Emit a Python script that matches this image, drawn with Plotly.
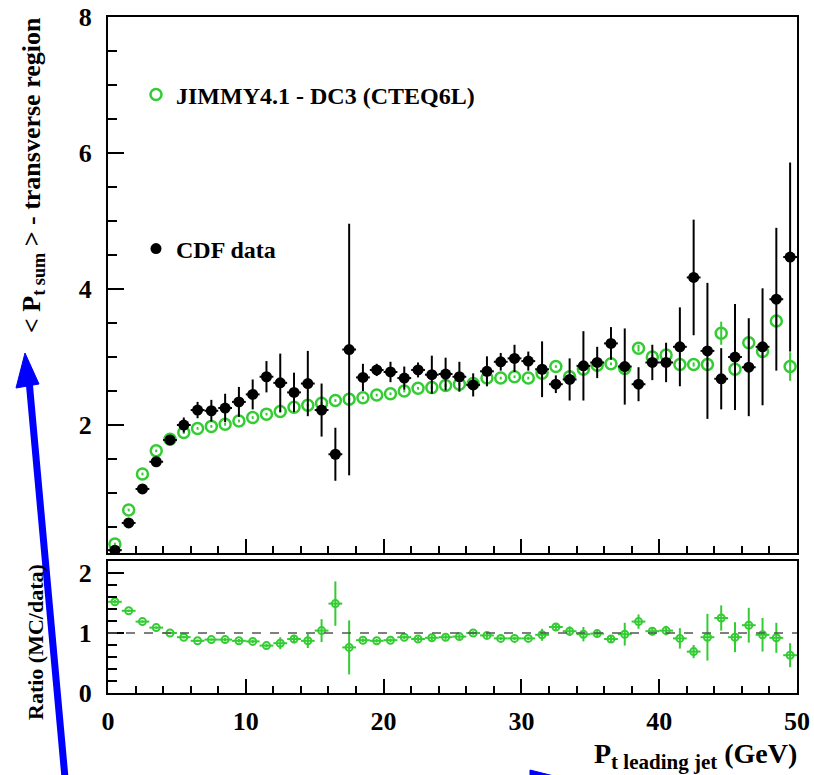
import plotly.graph_objects as go

# ---------------- data ----------------
pt_bins = [0.5, 1.5, 2.5, 3.5, 4.5, 5.5, 6.5, 7.5, 8.5, 9.5,
           10.5, 11.5, 12.5, 13.5, 14.5, 15.5, 16.5, 17.5, 18.5, 19.5,
           20.5, 21.5, 22.5, 23.5, 24.5, 25.5, 26.5, 27.5, 28.5, 29.5,
           30.5, 31.5, 32.5, 33.5, 34.5, 35.5, 36.5, 37.5, 38.5, 39.5,
           40.5, 41.5, 42.5, 43.5, 44.5, 45.5, 46.5, 47.5, 48.5, 49.5]

jimmy_mc = [0.25, 0.75, 1.28, 1.62, 1.79, 1.89, 1.95, 1.98, 2.01, 2.06,
            2.11, 2.16, 2.20, 2.26, 2.29, 2.32, 2.36, 2.38, 2.40, 2.44,
            2.46, 2.50, 2.54, 2.55, 2.58, 2.60, 2.61, 2.69, 2.69, 2.71,
            2.69, 2.76, 2.86, 2.71, 2.82, 2.88, 2.90, 2.83, 3.13, 3.00,
            3.03, 2.89, 2.89, 2.89, 3.35, 2.82, 3.21, 3.08, 3.53, 2.86]
jimmy_err = [0.02, 0.02, 0.02, 0.02, 0.02, 0.02, 0.02, 0.02, 0.02, 0.02,
             0.02, 0.02, 0.02, 0.02, 0.02, 0.02, 0.02, 0.02, 0.02, 0.02,
             0.02, 0.02, 0.02, 0.02, 0.02, 0.02, 0.02, 0.02, 0.02, 0.02,
             0.02, 0.02, 0.02, 0.02, 0.02, 0.02, 0.02, 0.02, 0.05, 0.03,
             0.03, 0.03, 0.03, 0.03, 0.17, 0.04, 0.06, 0.06, 0.08, 0.21]

cdf_data = [0.16, 0.56, 1.06, 1.46, 1.78, 2.00, 2.22, 2.21, 2.25, 2.34,
            2.45, 2.71, 2.62, 2.48, 2.61, 2.22, 1.57, 3.11, 2.70, 2.81,
            2.78, 2.69, 2.81, 2.74, 2.75, 2.71, 2.59, 2.79, 2.93, 2.98,
            2.94, 2.82, 2.60, 2.67, 2.87, 2.92, 3.20, 2.86, 2.60, 2.92,
            2.92, 3.15, 4.17, 3.09, 2.68, 3.00, 2.85, 3.15, 3.85, 4.47]
cdf_err = [0.03, 0.03, 0.03, 0.04, 0.04, 0.11, 0.12, 0.16, 0.21, 0.22,
           0.22, 0.23, 0.43, 0.29, 0.48, 0.39, 0.39, 1.85, 0.20, 0.09,
           0.15, 0.17, 0.11, 0.28, 0.24, 0.22, 0.17, 0.22, 0.13, 0.20,
           0.14, 0.41, 0.13, 0.31, 0.51, 0.23, 0.24, 0.56, 0.25, 0.26,
           0.29, 0.58, 0.85, 1.00, 0.45, 0.78, 0.72, 0.86, 1.05, 1.39]

ratio = [1.52, 1.37, 1.19, 1.09, 1.00, 0.93, 0.87, 0.89, 0.89, 0.87,
         0.86, 0.79, 0.83, 0.90, 0.87, 1.04, 1.49, 0.76, 0.88, 0.87,
         0.88, 0.93, 0.90, 0.92, 0.93, 0.94, 1.00, 0.96, 0.91, 0.91,
         0.91, 0.97, 1.10, 1.03, 0.98, 0.99, 0.90, 0.98, 1.19, 1.03,
         1.04, 0.91, 0.69, 0.93, 1.25, 0.93, 1.13, 0.97, 0.92, 0.63]
ratio_err = [0.03, 0.02, 0.02, 0.02, 0.02, 0.02, 0.02, 0.02, 0.03, 0.03,
             0.03, 0.03, 0.10, 0.07, 0.12, 0.19, 0.37, 0.45, 0.03, 0.03,
             0.03, 0.03, 0.04, 0.04, 0.04, 0.04, 0.03, 0.04, 0.03, 0.03,
             0.03, 0.10, 0.05, 0.08, 0.12, 0.05, 0.05, 0.19, 0.12, 0.07,
             0.08, 0.17, 0.11, 0.39, 0.21, 0.25, 0.29, 0.28, 0.25, 0.20]

mc_label = "JIMMY4.1 - DC3 (CTEQ6L)"
data_label = "CDF data"

GREEN = "#33cc33"
SERIF = "Liberation Serif"

# ---------------- geometry helpers (pixel -> paper) ----------------
W, H = 814, 775
ML, MR, MT, MB = 108, 17, 17, 82
PW, PH = W - ML - MR, H - MT - MB


def px(x):
    return (x - ML) / PW


def py(y):
    return (H - MB - y) / PH


fig = go.Figure()

# top panel: MC
fig.add_trace(go.Scatter(
    x=pt_bins, y=jimmy_mc, mode="markers", name=mc_label,
    marker=dict(symbol="circle-open", size=11, color=GREEN, line=dict(width=2.5, color=GREEN)),
    error_y=dict(type="data", array=jimmy_err, color=GREEN, thickness=2, width=0),
    xaxis="x", yaxis="y", legend="legend", showlegend=True,
))
# top panel: data
fig.add_trace(go.Scatter(
    x=pt_bins, y=cdf_data, mode="markers", name=data_label,
    marker=dict(symbol="circle", size=11, color="black"),
    error_y=dict(type="data", array=cdf_err, color="black", thickness=2, width=0),
    error_x=dict(type="constant", value=0.5, color="black", thickness=2, width=0),
    xaxis="x", yaxis="y", legend="legend2", showlegend=True,
))
# ratio panel
fig.add_trace(go.Scatter(
    x=pt_bins, y=ratio, mode="markers", name="ratio",
    marker=dict(symbol="circle-open", size=7, color=GREEN, line=dict(width=2, color=GREEN)),
    error_y=dict(type="data", array=ratio_err, color=GREEN, thickness=2, width=0),
    error_x=dict(type="constant", value=0.5, color=GREEN, thickness=2, width=0),
    xaxis="x2", yaxis="y2", showlegend=False,
))

top_lo = py(553)
bot_hi = py(561)

axis_common = dict(
    showline=True, linecolor="black", linewidth=2, mirror=True,
    ticks="inside", tickcolor="black", tickwidth=1.5,
    showgrid=False, zeroline=False, automargin=False,
    tickfont=dict(family=SERIF, size=26, color="black", weight="bold"),
)

fig.update_layout(
    width=W, height=H,
    margin=dict(l=ML, r=MR, t=MT, b=MB, autoexpand=False),
    paper_bgcolor="white", plot_bgcolor="white",
    xaxis=dict(domain=[0, 1], range=[0, 50], anchor="y", matches="x2",
               showticklabels=False, dtick=10, ticklen=14,
               minor=dict(dtick=2, ticklen=7, ticks="inside", tickcolor="black", tickwidth=1.5),
               **axis_common),
    yaxis=dict(domain=[top_lo, 1], range=[0.118, 8], anchor="x",
               tickvals=[2, 4, 6, 8], ticklen=16, ticklabelstandoff=9,
               minor=dict(dtick=0.5, tick0=0, ticklen=9, ticks="inside", tickcolor="black", tickwidth=1.5),
               **axis_common),
    xaxis2=dict(domain=[0, 1], range=[0, 50], anchor="y2",
                dtick=10, ticklen=14, ticklabelstandoff=4,
                minor=dict(dtick=2, ticklen=7, ticks="inside", tickcolor="black", tickwidth=1.5),
                **axis_common),
    yaxis2=dict(domain=[0, bot_hi], range=[0, 2.2], anchor="x2",
                tickvals=[0, 1, 2], ticklen=16, ticklabelstandoff=9,
                minor=dict(dtick=0.2, tick0=0, ticklen=9, ticks="inside", tickcolor="black", tickwidth=1.5),
                **axis_common),
    legend=dict(x=px(136), y=py(95), xanchor="left", yanchor="middle",
                bgcolor="rgba(0,0,0,0)", borderwidth=0,
                font=dict(family=SERIF, size=24, color="black", weight="bold")),
    legend2=dict(x=px(136), y=py(249), xanchor="left", yanchor="middle",
                 bgcolor="rgba(0,0,0,0)", borderwidth=0,
                 font=dict(family=SERIF, size=24, color="black", weight="bold")),
)

# dashed reference line at ratio = 1
fig.add_shape(type="line", xref="x2", yref="y2", x0=0, x1=50, y0=1, y1=1,
              line=dict(color="#555555", width=1.5, dash="dash"))

# axis titles
fig.add_annotation(
    text="&lt; P<sub>t sum</sub> &gt; - transverse region",
    xref="paper", yref="paper", x=px(33), y=py(175), xanchor="center", yanchor="middle",
    textangle=-90, showarrow=False,
    font=dict(family=SERIF, size=26, color="black", weight="bold"))
fig.add_annotation(
    text="Ratio (MC/data)",
    xref="paper", yref="paper", x=px(35), y=py(642), xanchor="center", yanchor="middle",
    textangle=-90, showarrow=False,
    font=dict(family=SERIF, size=22, color="black", weight="bold"))
fig.add_annotation(
    text="P<sub><span style='font-size:21px'>t leading jet</span></sub> (GeV)",
    xref="paper", yref="paper", x=px(799), y=py(756), xanchor="right", yanchor="middle",
    showarrow=False,
    font=dict(family=SERIF, size=28, color="black", weight="bold"))

# blue annotation arrows (overlay drawn on the original image)
fig.add_shape(type="line", xref="paper", yref="paper",
              x0=px(65), y0=py(778), x1=px(29), y1=py(380),
              line=dict(color="#0000ff", width=7))
fig.add_shape(type="path", xref="paper", yref="paper",
              path="M {} {} L {} {} L {} {} Z".format(px(25), py(353), px(16), py(388), px(39), py(384)),
              fillcolor="#0000ff", line=dict(color="#0000ff", width=1))
fig.add_shape(type="path", xref="paper", yref="paper",
              path="M {} {} L {} {} L {} {} Z".format(px(530), py(770), px(554), py(776), px(530), py(776)),
              fillcolor="#0000ff", line=dict(color="#0000ff", width=1))

fig.write_html("out.html", config={"displayModeBar": False},
               post_script="document.body.style.margin='0px';document.body.style.overflow='hidden';")
